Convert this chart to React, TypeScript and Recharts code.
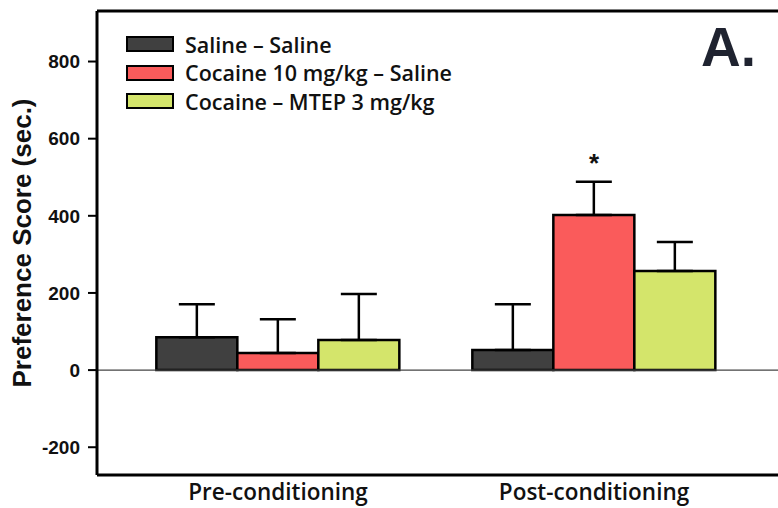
import { BarChart, Bar, XAxis, YAxis, ErrorBar, ReferenceLine, ReferenceDot, Legend, Label } from "recharts";

const phases = ["Pre-conditioning", "Post-conditioning"];
const seriesNames = ["Saline – Saline", "Cocaine 10 mg/kg – Saline", "Cocaine – MTEP 3 mg/kg"];
const seriesColors = ["#404040", "#fa5b5b", "#d4e56b"];

const salineSaline = [85, 52];
const salineSalineErr = [86, 119];
const cocaineSaline = [44, 402];
const cocaineSalineErr = [88, 86];
const cocaineMtep = [78, 257];
const cocaineMtepErr = [119, 75];

const yTicks = [-200, 0, 200, 400, 600, 800];
const yMin = -272;
const yMax = 931;

const data = phases.map((name, i) => ({
  name,
  ss: salineSaline[i],
  ssErr: [0, salineSalineErr[i]],
  cs: cocaineSaline[i],
  csErr: [0, cocaineSalineErr[i]],
  cm: cocaineMtep[i],
  cmErr: [0, cocaineMtepErr[i]],
}));

const sansBold = "'Liberation Sans', Arial, sans-serif";
const labelFont = "'Open Sans', 'Noto Sans', sans-serif";

function LegendBox() {
  return (
    <div style={{ display: "flex", flexDirection: "column", gap: 0 }}>
      {seriesNames.map((n, i) => (
        <div key={n} style={{ display: "flex", alignItems: "center", height: 28.5 }}>
          <div
            style={{
              width: 44,
              height: 12,
              background: seriesColors[i],
              border: "2px solid #000",
              marginRight: 11,
            }}
          />
          <span style={{ fontFamily: labelFont, fontWeight: 600, fontSize: 21.5, color: "#111", whiteSpace: "nowrap" }}>
            {n}
          </span>
        </div>
      ))}
    </div>
  );
}

function PhaseTick(props: any) {
  const { x, y, payload } = props;
  return (
    <text x={x} y={y} dy={17} textAnchor="middle" fontFamily={labelFont} fontWeight={600} fontSize={22.5} fill="#111">
      {payload.value}
    </text>
  );
}

export default function App() {
  return (
    <div style={{ position: "absolute", left: 0, top: 0, width: 778, height: 508, overflow: "hidden", background: "#fff" }}>
      <BarChart
        width={810}
        height={508}
        data={data}
        margin={{ top: 11, right: 0, left: 0, bottom: 0 }}
        barCategoryGap="11.5%"
        barGap={0}
      >
        <XAxis
          dataKey="name"
          padding={{ left: 23, right: 58 }}
          axisLine={{ stroke: "#000", strokeWidth: 3 }}
          tickLine={false}
          tick={<PhaseTick />}
          height={33}
          interval={0}
        />
        <YAxis
          domain={[yMin, yMax]}
          ticks={yTicks}
          allowDataOverflow
          width={97}
          axisLine={{ stroke: "#000", strokeWidth: 3 }}
          tickLine={{ stroke: "#000", strokeWidth: 2 }}
          tickSize={9}
          tickMargin={8}
          tick={{ fontFamily: sansBold, fontWeight: 700, fontSize: 19, fill: "#111" }}
        >
          <Label
            content={({ viewBox }: any) => {
              const cx = 22;
              const cy = viewBox.y + viewBox.height / 2;
              return (
                <text
                  x={cx}
                  y={cy}
                  transform={`rotate(-90 ${cx} ${cy})`}
                  textAnchor="middle"
                  dominantBaseline="central"
                  fontFamily={sansBold}
                  fontWeight={700}
                  fontSize={26}
                  fill="#111"
                >
                  Preference Score (sec.)
                </text>
              );
            }}
          />
        </YAxis>
        <Legend
          layout="horizontal"
          verticalAlign="middle"
          align="center"
          content={() => <LegendBox />}
          wrapperStyle={{ position: "absolute", left: 126, top: 30, width: "auto", height: "auto" }}
        />
        <ReferenceLine y={yMax} stroke="#000" strokeWidth={3} />
        <ReferenceLine y={0} stroke="#444" strokeWidth={1.2} />
        <Bar dataKey="ss" name={seriesNames[0]} fill={seriesColors[0]} stroke="#000" strokeWidth={2.5} isAnimationActive={false}>
          <ErrorBar dataKey="ssErr" width={18} strokeWidth={2.5} stroke="#000" direction="y" />
        </Bar>
        <Bar dataKey="cs" name={seriesNames[1]} fill={seriesColors[1]} stroke="#000" strokeWidth={2.5} isAnimationActive={false}>
          <ErrorBar dataKey="csErr" width={18} strokeWidth={2.5} stroke="#000" direction="y" />
        </Bar>
        <Bar dataKey="cm" name={seriesNames[2]} fill={seriesColors[2]} stroke="#000" strokeWidth={2.5} isAnimationActive={false}>
          <ErrorBar dataKey="cmErr" width={18} strokeWidth={2.5} stroke="#000" direction="y" />
        </Bar>
        <ReferenceDot
          x={phases[1]}
          y={cocaineSalineErr[1] + cocaineSaline[1]}
          r={0}
          stroke="none"
          label={{ value: "*", position: "top", offset: 10, fontFamily: sansBold, fontWeight: 700, fontSize: 26, fill: "#111" }}
        />
      </BarChart>
      <div
        style={{
          position: "absolute",
          left: 701,
          top: 20,
          fontFamily: sansBold,
          fontWeight: 700,
          fontSize: 55,
          color: "#1f2330",
          lineHeight: 1,
        }}
      >
        A.
      </div>
    </div>
  );
}
